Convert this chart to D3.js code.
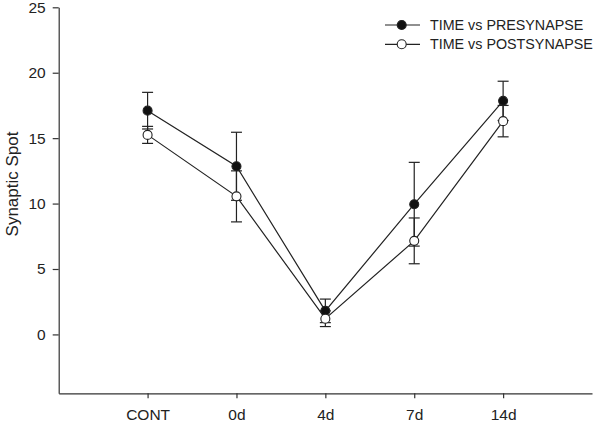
<!DOCTYPE html>
<html><head><meta charset="utf-8">
<script src="https://cdn.jsdelivr.net/npm/d3@7"></script>
<style>body{margin:0;background:#fff}svg{display:block}text{font-family:"Liberation Sans",Arial,sans-serif;fill:#222}</style>
</head><body>
<script>
const categories = ["CONT","0d","4d","7d","14d"];
const preValues = [17.1, 12.85, 1.8, 9.95, 17.85];
const preErrors = [1.4, 2.6, 0.9, 3.2, 1.5];
const postValues = [15.25, 10.55, 1.2, 7.15, 16.3];
const postErrors = [0.65, 1.95, 0.6, 1.75, 1.2];
const yTicks = [0,5,10,15,20,25];
const seriesNames = ["TIME vs PRESYNAPSE","TIME vs POSTSYNAPSE"];

const W=600,H=431;
const svg=d3.select("body").append("svg").attr("width",W).attr("height",H);
const x=d3.scaleLinear().domain([-1,5]).range([58.7,592]);
const y=d3.scaleLinear().domain([-4.5,25]).range([393.3,7.3]);
const ink="#333";
const font='"Liberation Sans",Arial,sans-serif';

const yAx=svg.append("g").attr("transform","translate(58.7,0)")
  .call(d3.axisLeft(y).tickValues(yTicks).tickSize(6).tickSizeOuter(0).tickPadding(7));
const xAx=svg.append("g").attr("transform","translate(0,393.3)")
  .call(d3.axisBottom(x).tickValues(d3.range(categories.length)).tickFormat(i=>categories[i]).tickSize(5).tickSizeOuter(0).tickPadding(11));
[yAx,xAx].forEach(g=>{
  g.select(".domain").attr("stroke",ink).attr("stroke-width",1.2);
  g.selectAll(".tick line").attr("stroke",ink).attr("stroke-width",1.2);
  g.selectAll("text").attr("font-size",15.5).attr("fill","#222").attr("font-family",font);
});
svg.append("text").attr("transform","translate(17.5,184) rotate(-90)").attr("text-anchor","middle")
  .attr("font-size",17).text("Synaptic Spot");

const series=[
  {vals:preValues,errs:preErrors,fill:"#111"},
  {vals:postValues,errs:postErrors,fill:"#fff"}
];
const line=d3.line().x((d,i)=>x(i)).y(d=>y(d));
series.forEach(s=>{
  svg.append("path").attr("d",line(s.vals)).attr("fill","none").attr("stroke","#222").attr("stroke-width",1.2);
});
series.forEach(s=>{
  const g=svg.append("g").attr("stroke","#222").attr("stroke-width",1.2);
  s.vals.forEach((v,i)=>{
    const cx=x(i),t=y(v+s.errs[i]),b=y(v-s.errs[i]);
    g.append("line").attr("x1",cx).attr("x2",cx).attr("y1",t).attr("y2",b);
    g.append("line").attr("x1",cx-5.5).attr("x2",cx+5.5).attr("y1",t).attr("y2",t);
    g.append("line").attr("x1",cx-5.5).attr("x2",cx+5.5).attr("y1",b).attr("y2",b);
  });
});
series.forEach(s=>{
  svg.append("g").selectAll("circle").data(s.vals).join("circle")
    .attr("cx",(d,i)=>x(i)).attr("cy",d=>y(d)).attr("r",4.5)
    .attr("fill",s.fill).attr("stroke","#222").attr("stroke-width",1.1);
});

const lg=svg.append("g");
series.forEach((s,k)=>{
  const yy=25+k*19.3;
  lg.append("line").attr("x1",385).attr("x2",420).attr("y1",yy).attr("y2",yy).attr("stroke","#222").attr("stroke-width",1.2);
  lg.append("circle").attr("cx",401.7).attr("cy",yy).attr("r",4.5).attr("fill",s.fill).attr("stroke","#222").attr("stroke-width",1.1);
  lg.append("text").attr("x",430).attr("y",yy+5.1).attr("font-size",14.3).text(seriesNames[k]);
});
</script>
</body></html>
